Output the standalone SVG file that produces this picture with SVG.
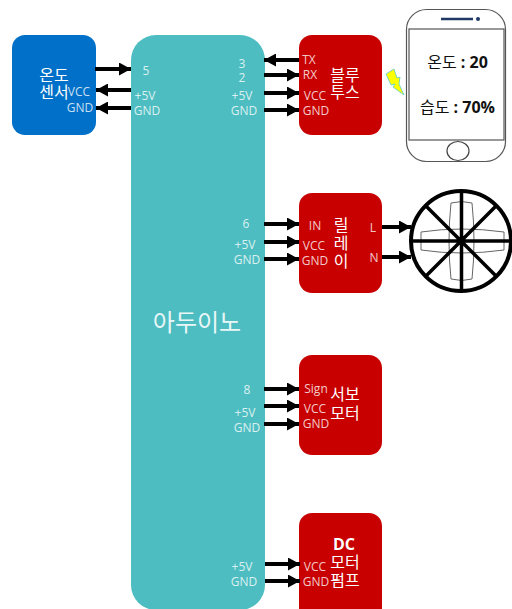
<svg xmlns="http://www.w3.org/2000/svg" width="512" height="609" viewBox="0 0 512 609">
<defs>
<marker id="ah" markerUnits="userSpaceOnUse" markerWidth="13" markerHeight="13" refX="12" refY="6.500" orient="auto"><path d="M0 0L12 6.500L0 13Z" fill="#000"/></marker>
</defs>
<style>
text{font-family:"Open Sans","Noto Sans CJK KR",sans-serif;text-anchor:middle}
.p{font-size:12px;fill:#fff;fill-opacity:.8}
.t{font-size:16px;fill:#fff}
.ph{font-size:16px;fill:#111;font-weight:400}
.ph tspan{font-weight:700}
.c line{stroke:#000;stroke-width:4;marker-end:url(#ah)}
.r{fill:#c80000}
</style>
<g id="temp-sensor">
<rect x="12" y="35" width="84" height="100" rx="13" fill="#0070c8"/>
<text class="t" x="54" y="81">온도</text><text class="t" x="54" y="98">센서</text>
<text class="p" x="79" y="96">VCC</text><text class="p" x="80" y="112">GND</text>
</g>
<g id="arduino">
<path d="M156 35H240A25 25 0 0 1 265 60V585A25 25 0 0 1 240 610H156A25 25 0 0 1 131 585V60A25 25 0 0 1 156 35Z" fill="#4dbdc1"/>
<text x="197" y="331" font-size="24" fill="#fff" fill-opacity=".9">아두이노</text>
<text class="p" x="146" y="75">5</text><text class="p" x="145" y="100">+5V</text><text class="p" x="147" y="115">GND</text>
<text class="p" x="242" y="68">3</text><text class="p" x="242" y="82">2</text><text class="p" x="242" y="100">+5V</text><text class="p" x="244" y="115">GND</text>
<text class="p" x="246" y="228">6</text><text class="p" x="245" y="249">+5V</text><text class="p" x="247" y="264">GND</text>
<text class="p" x="247" y="394">8</text><text class="p" x="245" y="417">+5V</text><text class="p" x="247" y="432">GND</text>
<text class="p" x="242" y="571">+5V</text><text class="p" x="244" y="586">GND</text>
</g>
<g id="bluetooth">
<rect class="r" x="299" y="35" width="83" height="100" rx="13"/>
<text class="t" x="345" y="81">블루</text><text class="t" x="345" y="98">투스</text>
<text class="p" x="309" y="64">TX</text><text class="p" x="310" y="79">RX</text><text class="p" x="315" y="100">VCC</text><text class="p" x="316" y="115">GND</text>
</g>
<g id="relay">
<rect class="r" x="299" y="193" width="83" height="100" rx="13"/>
<text class="t" x="341" y="231">릴</text><text class="t" x="341" y="249">레</text><text class="t" x="341" y="267">이</text>
<text class="p" x="315" y="230">IN</text><text class="p" x="314" y="250">VCC</text><text class="p" x="315" y="265">GND</text><text class="p" x="373" y="232">L</text><text class="p" x="374" y="262">N</text>
</g>
<g id="servo">
<rect class="r" x="299" y="355" width="83" height="100" rx="13"/>
<text class="t" x="345" y="400">서보</text><text class="t" x="345" y="419">모터</text>
<text class="p" x="316" y="393">Sign</text><text class="p" x="315" y="413">VCC</text><text class="p" x="316" y="428">GND</text>
</g>
<g id="dc-pump">
<rect class="r" x="299" y="513" width="83" height="110" rx="13"/>
<text class="t" x="344" y="550" font-weight="700">DC</text><text class="t" x="345" y="568">모터</text><text class="t" x="345" y="586">펌프</text>
<text class="p" x="315" y="571">VCC</text><text class="p" x="316" y="586">GND</text>
</g>
<g id="phone">
<rect x="406.500" y="9.500" width="99" height="152" rx="20" fill="#fff" stroke="#555" stroke-width="1.2"/>
<rect x="409" y="29" width="95" height="111" fill="#fff" stroke="#555" stroke-width="1.200"/>
<line x1="441" y1="19" x2="473" y2="19" stroke="#1f3864" stroke-width="2.500"/><circle cx="478" cy="19" r="2" fill="#1f3864"/>
<ellipse cx="458" cy="151" rx="11" ry="9.500" fill="#fff" stroke="#444" stroke-width="1.200"/>
<text class="ph" x="457.500" y="68">온도 <tspan>: 20</tspan></text><text class="ph" x="457.500" y="113">습도 <tspan>: 70%</tspan></text>
</g>
<path id="lightning" d="M386 74L394 69L397 78L400 77L399 84L404 95L393 87L395 84L391 85Z" fill="#ff0" stroke="#5cc" stroke-width=".8"/>
<g id="fan" fill="none" stroke="#000">
<path d="M451 203Q462 200 472 203Q476 241 472 279Q462 282 451 279Q447 241 451 203Z" stroke="#666" stroke-width="1"/>
<path d="M421 232Q461 226 504 232V250Q461 256 421 250Z" stroke="#666" stroke-width="1"/>
<circle cx="461" cy="241" r="50" stroke-width="4"/>
<path d="M411 241H512M461.500 191V291M426 206L496 276M496 206L426 276" stroke-width="3.500"/>
</g>
<g id="connectors" class="c">
<line x1="95" y1="69" x2="131" y2="69"/><line x1="131" y1="90" x2="96" y2="90"/><line x1="131" y1="108" x2="96" y2="108"/>
<line x1="299" y1="60" x2="264" y2="60"/><line x1="264" y1="75" x2="299" y2="75"/><line x1="264" y1="93" x2="299" y2="93"/><line x1="264" y1="110" x2="299" y2="110"/>
<line x1="264" y1="224" x2="299" y2="224"/><line x1="264" y1="242" x2="299" y2="242"/><line x1="264" y1="259" x2="299" y2="259"/>
<line x1="382" y1="227" x2="411" y2="227"/><line x1="382" y1="257" x2="411" y2="257"/>
<line x1="264" y1="389" x2="299" y2="389"/><line x1="264" y1="406" x2="299" y2="406"/><line x1="264" y1="424" x2="299" y2="424"/>
<line x1="265" y1="564" x2="300" y2="564"/><line x1="265" y1="581" x2="300" y2="581"/>
</g>
</svg>
